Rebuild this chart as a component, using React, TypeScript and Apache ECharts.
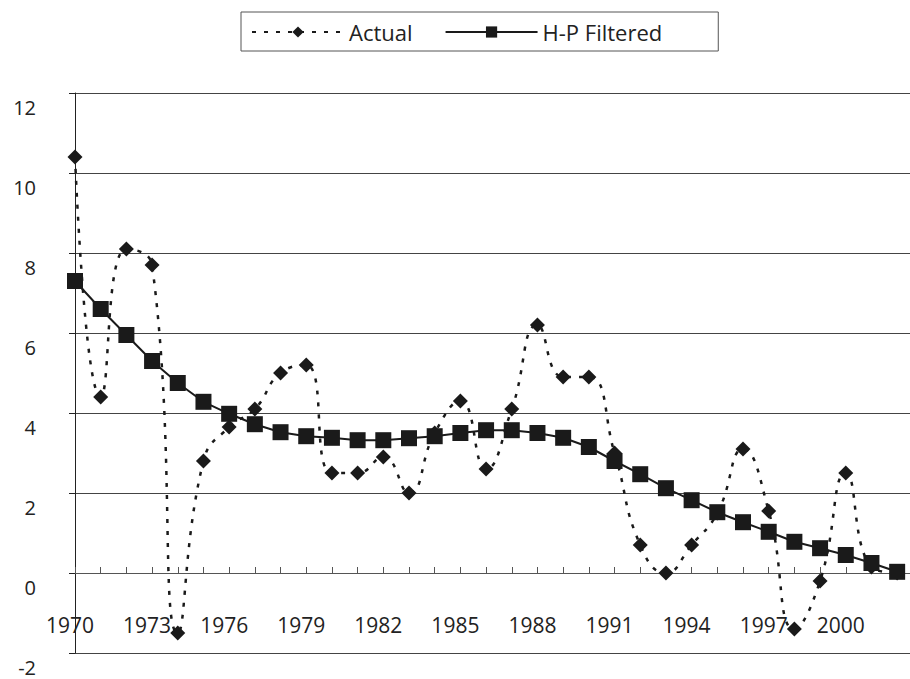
import React, { useEffect, useRef } from "react";
import * as echarts from "echarts";

const years: number[] = [
  1970, 1971, 1972, 1973, 1974, 1975, 1976, 1977, 1978, 1979, 1980,
  1981, 1982, 1983, 1984, 1985, 1986, 1987, 1988, 1989, 1990, 1991,
  1992, 1993, 1994, 1995, 1996, 1997, 1998, 1999, 2000, 2001, 2002,
];

const actual: number[] = [
  10.4, 4.4, 8.1, 7.7, -1.5, 2.8, 3.65, 4.1, 5.0, 5.2, 2.5,
  2.5, 2.9, 2.0, 3.5, 4.3, 2.6, 4.1, 6.2, 4.9, 4.9, 3.0,
  0.7, 0.0, 0.7, 1.5, 3.1, 1.55, -1.4, -0.2, 2.5, 0.15, 0.0,
];

const hpFiltered: number[] = [
  7.3, 6.6, 5.95, 5.3, 4.75, 4.28, 3.98, 3.72, 3.52, 3.42, 3.38,
  3.32, 3.32, 3.37, 3.42, 3.5, 3.57, 3.57, 3.5, 3.38, 3.15, 2.8,
  2.47, 2.12, 1.82, 1.52, 1.27, 1.03, 0.78, 0.62, 0.45, 0.25, 0.03,
];

const FONT = "'Open Sans', 'DejaVu Sans', sans-serif";

export default function App() {
  const ref = useRef<HTMLDivElement>(null);

  useEffect(() => {
    if (!ref.current) return;
    const chart = echarts.init(ref.current, null, { renderer: "svg" });
    chart.setOption({
      animation: false,
      backgroundColor: "#ffffff",
      textStyle: { fontFamily: FONT, color: "#222" },
      legend: {
        left: 241,
        top: 12,
        padding: [9, 56, 8, 10],
        borderColor: "#555",
        borderWidth: 1,
        itemWidth: 92,
        itemHeight: 14,
        itemGap: 32,
        textStyle: { fontFamily: FONT, fontSize: 22, color: "#222" },
        data: ["Actual", "H-P Filtered"],
      },
      grid: { left: 75, right: 0, top: 93, bottom: 26, outerBoundsMode: "none" },
      xAxis: {
        type: "value",
        min: 1970,
        max: 2002.5,
        interval: 1,
        axisLine: { onZero: true, lineStyle: { color: "#555", width: 1 } },
        axisTick: { show: true, inside: true, length: 6, lineStyle: { color: "#555" } },
        splitLine: { show: false },
        axisLabel: {
          showMaxLabel: false,
          margin: -39,
          fontSize: 21,
          fontFamily: FONT,
          color: "#222",
          padding: [0, 10, 0, 0],
          formatter: (v: number) =>
            (Math.round(v) - 1970) % 3 === 0 && v <= 2000 ? String(Math.round(v)) : "",
        },
      },
      yAxis: {
        type: "value",
        min: -2,
        max: 12,
        interval: 2,
        axisLine: { show: true, lineStyle: { color: "#222", width: 1 } },
        axisTick: { show: true, length: 6, lineStyle: { color: "#222" } },
        splitLine: { show: true, lineStyle: { color: "#444", width: 1 } },
        axisLabel: {
          margin: 39,
          fontSize: 20,
          fontFamily: FONT,
          color: "#222",
          verticalAlign: "top",
          padding: [4, 0, 0, 0],
        },
      },
      series: [
        {
          name: "Actual",
          type: "line",
          data: years.map((y, i) => [y, actual[i]]),
          smooth: 0.5,
          symbol: "diamond",
          symbolSize: 15,
          itemStyle: { color: "#1a1a1a" },
          lineStyle: { color: "#1a1a1a", width: 2.5, type: [4, 8] },
          z: 3,
        },
        {
          name: "H-P Filtered",
          type: "line",
          data: years.map((y, i) => [y, hpFiltered[i]]),
          symbol: "rect",
          symbolSize: 16,
          itemStyle: { color: "#1a1a1a" },
          lineStyle: { color: "#1a1a1a", width: 2 },
          z: 4,
        },
      ],
    });
    return () => chart.dispose();
  }, []);

  return (
    <div
      ref={ref}
      style={{ position: "fixed", left: 0, top: 0, width: 910, height: 679 }}
    />
  );
}
